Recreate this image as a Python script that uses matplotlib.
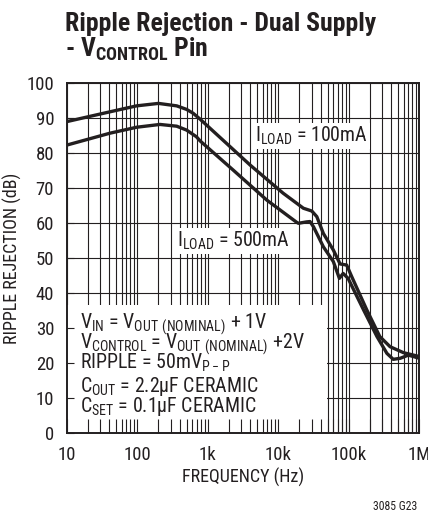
import numpy as np
import matplotlib
matplotlib.use("Agg")
import matplotlib.pyplot as plt
from matplotlib.patches import Rectangle
from matplotlib.ticker import LogLocator, NullFormatter, FixedLocator, FixedFormatter

plt.rcParams['font.family'] = ['Roboto Condensed', 'DejaVu Sans']
plt.rcParams['mathtext.default'] = 'regular'

INK = '#231f20'

# curve data (Hz, dB)
f_100 = [10, 41, 98, 200, 363, 500, 620, 780, 4000, 11700, 22700, 29900, 35200,
         43600, 60300, 75300, 93300, 110000, 180000, 275000, 385000, 596000, 1e6]
rr_100 = [88.9, 91.7, 93.4, 94.1, 93.4, 92.4, 91.3, 89.6, 76.5, 68.5, 64.2, 63.4, 61.8,
          57.0, 52.3, 48.3, 48.0, 44.7, 35.2, 27.6, 24.7, 23.0, 21.9]

f_500 = [10, 41, 98, 210, 363, 500, 690, 780, 2290, 6900, 18200, 19300, 25100, 28200,
         31600, 43600, 60300, 73600, 83200, 97700, 162000, 251000, 347000,
         427000, 537000, 700000, 1e6]
rr_500 = [82.2, 85.6, 87.3, 88.1, 87.6, 86.5, 84.6, 83.4, 75.1, 66.5, 60.2, 59.9, 60.3, 60.4,
          58.9, 53.2, 49.0, 44.2, 45.6, 44.2, 35.2, 27.6, 22.8,
          21.1, 21.4, 22.3, 21.4]

x_ticks = [10, 100, 1e3, 1e4, 1e5, 1e6]
x_labels = ['10', '100', '1k', '10k', '100k', '1M']
y_ticks = list(range(0, 101, 10))

fig = plt.figure(figsize=(4.28, 5.17), dpi=100)
pos = [0.1558, 0.1619, 0.8239, 0.6781]
ax = fig.add_axes(pos)

ax.set_xscale('log')
ax.set_xlim(10, 1e6)
ax.set_ylim(0, 100)

ax.xaxis.set_major_locator(FixedLocator(x_ticks))
ax.xaxis.set_major_formatter(FixedFormatter(x_labels))
ax.xaxis.set_minor_locator(LogLocator(base=10, subs=np.arange(2, 10)))
ax.xaxis.set_minor_formatter(NullFormatter())
ax.set_yticks(y_ticks)

ax.grid(True, which='both', axis='x', color=INK, lw=0.8)
ax.grid(True, which='major', axis='y', color=INK, lw=0.8)
ax.tick_params(which='both', length=0, labelsize=13.5, colors=INK, pad=9)
for s in ax.spines.values():
    s.set_visible(False)

ax.plot(f_100, rr_100, color=INK, lw=2.4, solid_joinstyle='round', zorder=3)
ax.plot(f_500, rr_500, color=INK, lw=2.4, solid_joinstyle='round', zorder=3)

# white panel behind the conditions
ax.add_patch(Rectangle((0, 0), 0.738, 0.366, transform=ax.transAxes,
                       facecolor='white', edgecolor='none', zorder=4))
cond = [r'$V_{IN}$ = $V_{OUT\ (NOMINAL)}$ + 1V',
        r'$V_{CONTROL}$ = $V_{OUT\ (NOMINAL)}$ +2V',
        r'RIPPLE = 50m$V_{P-P}$',
        r'$C_{OUT}$ = 2.2µF CERAMIC',
        r'$C_{SET}$ = 0.1µF CERAMIC']
ys = [0.2995, 0.2425, 0.1854, 0.1187, 0.0616]
for t, y in zip(cond, ys):
    ax.text(0.038, y, t, transform=ax.transAxes, fontsize=14.3, color=INK,
            va='baseline', ha='left', zorder=5)

box = dict(facecolor='white', edgecolor='none', pad=1.5)
ax.text(4700, 83.2, r'$I_{LOAD}$ = 100mA', fontsize=14.3, color=INK,
        va='baseline', ha='left', bbox=box, zorder=5)
ax.text(367, 53.2, r'$I_{LOAD}$ = 500mA', fontsize=14.3, color=INK,
        va='baseline', ha='left', bbox=box, zorder=5)

# overlay axes for the inward ticks and frame, drawn above the white panel
ax2 = fig.add_axes(pos, sharex=ax, sharey=ax)
ax2.patch.set_visible(False)
ax2.tick_params(which='both', direction='in', labelbottom=False, labelleft=False,
                colors=INK, width=0.8)
ax2.tick_params(axis='x', which='both', length=10)
ax2.tick_params(axis='y', which='both', length=5)
for s in ax2.spines.values():
    s.set_linewidth(1.4)
    s.set_color(INK)

fig.text(65 / 428, 1 - 30.7 / 517, 'Ripple Rejection - Dual Supply',
         fontsize=18.5, fontweight='bold', color=INK, va='baseline')
fig.text(65 / 428, 1 - 57.3 / 517, r'- $V_{CONTROL}$ Pin',
         fontsize=18.5, fontweight='bold', color=INK, va='baseline')

fig.text(12 / 428, 1 - 258 / 517, 'RIPPLE REJECTION (dB)', rotation=90,
         fontsize=13, color=INK, ha='center', va='center')
fig.text(243 / 428, 1 - 477 / 517, 'FREQUENCY (Hz)', fontsize=13, color=INK,
         ha='center', va='center')
fig.text(417 / 428, 1 - 507 / 517, '3085 G23', fontsize=8.5, color=INK,
         ha='right', va='center')

fig.savefig('out.png', dpi=100)
